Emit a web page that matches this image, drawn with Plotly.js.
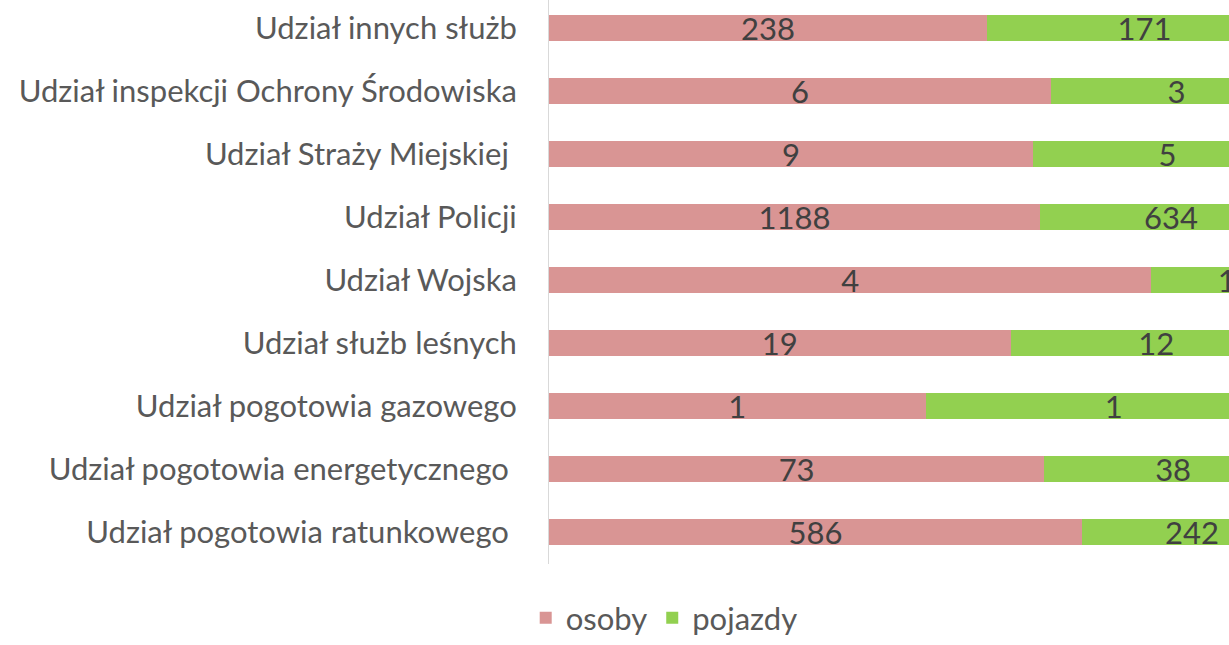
<!DOCTYPE html>
<html>
<head>
<meta charset="utf-8">
<script src="https://cdn.plot.ly/plotly-3.0.1.min.js"></script>
<style>
html,body{margin:0;padding:0;overflow:hidden;background:#fff;}
#chart{width:1340px;height:645px;}
</style>
</head>
<body>
<div id="chart"></div>
<script>
// Categories, top to bottom
const categories = [
  "Udział innych służb",
  "Udział inspekcji Ochrony Środowiska",
  "Udział Straży Miejskiej\u00a0",
  "Udział Policji",
  "Udział Wojska",
  "Udział służb leśnych",
  "Udział pogotowia gazowego",
  "Udział pogotowia energetycznego\u00a0",
  "Udział pogotowia ratunkowego\u00a0"
];
const osoby   = [238, 6, 9, 1188, 4, 19, 1, 73, 586];
const pojazdy = [171, 3, 5, 634, 1, 12, 1, 38, 242];

const FONT = "Lato, 'Open Sans', sans-serif";
const SIZE = 31;

const traces = [
  {
    type: 'bar', orientation: 'h', name: 'osoby',
    y: categories, x: osoby, text: osoby.map(String),
    textposition: 'inside', insidetextanchor: 'middle', textangle: 0,
    textfont: {family: FONT, size: SIZE, color: '#404040'},
    marker: {color: '#D99594'}, hoverinfo: 'skip'
  },
  {
    type: 'bar', orientation: 'h', name: 'pojazdy',
    y: categories, x: pojazdy, text: pojazdy.map(String),
    textposition: 'inside', insidetextanchor: 'middle', textangle: 0,
    textfont: {family: FONT, size: SIZE, color: '#404040'},
    marker: {color: '#92D050'}, hoverinfo: 'skip'
  }
];

const layout = {
  width: 1340, height: 645,
  margin: {l: 549, r: 38, t: 0, b: 81, autoexpand: false},
  barmode: 'stack', barnorm: 'percent', bargap: 0.6,
  paper_bgcolor: '#fff', plot_bgcolor: '#fff',
  font: {family: FONT, size: SIZE, color: '#595959'},
  uniformtext: {mode: 'show', minsize: SIZE},
  xaxis: {range: [0, 100], showgrid: false, zeroline: false, showticklabels: false, showline: false, fixedrange: true},
  yaxis: {
    type: 'category', range: [8.508, -0.444],
    showgrid: false, zeroline: false,
    showline: true, linecolor: '#D9D9D9', linewidth: 1,
    ticks: 'outside', ticklen: 25, tickcolor: 'rgba(0,0,0,0)',
    tickfont: {family: FONT, size: SIZE, color: '#595959'}
  },
  showlegend: true,
  legend: {orientation: 'h', x: 0.153, xanchor: 'center', y: -0.1436, yanchor: 'bottom',
           font: {family: FONT, size: SIZE, color: '#595959'}, traceorder: 'normal',
           itemwidth: 30}
};

Plotly.newPlot('chart', traces, layout, {displayModeBar: false, staticPlot: true});
</script>
</body>
</html>
